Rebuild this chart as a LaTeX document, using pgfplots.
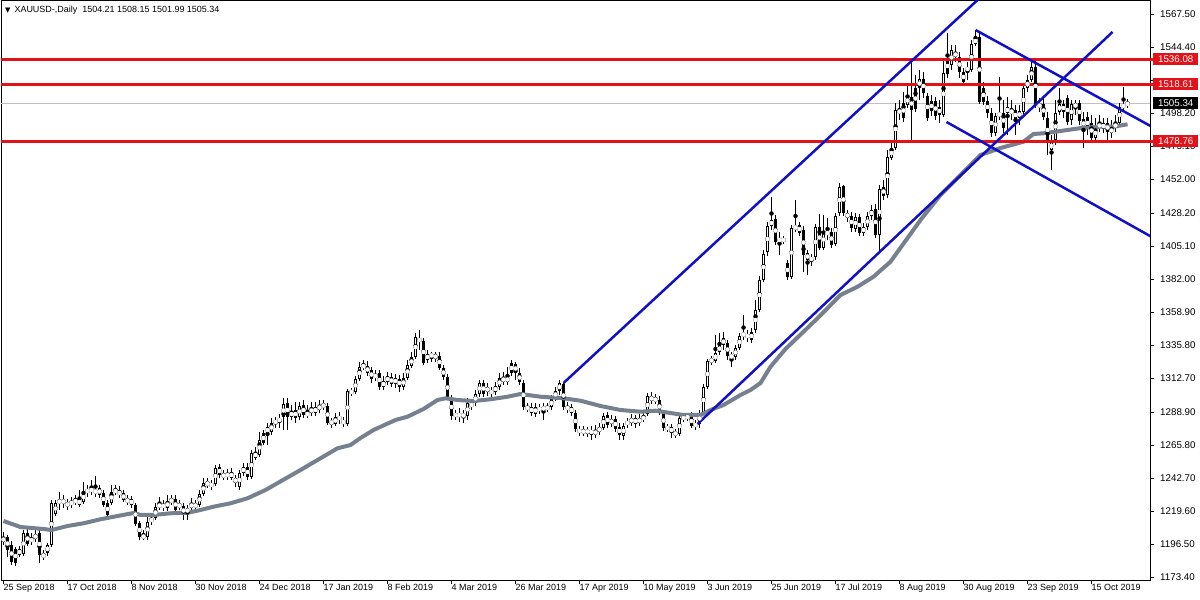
\documentclass[border=0pt]{standalone}
\usepackage{fontspec}
\setmainfont{Liberation Sans}
\newfontfamily\symfont{DejaVu Sans}
\usepackage{pgfplots}
\usepackage{pgfplotstable}
\pgfplotsset{compat=1.18}
\definecolor{mtred}{RGB}{226,18,24}
\definecolor{mtblue}{RGB}{16,16,200}
\definecolor{magray}{RGB}{118,128,142}
\definecolor{pricegray}{RGB}{192,192,192}
\newcommand\lab{\fontsize{9}{10}\selectfont}
\newcommand\ylab{\fontsize{9.8}{11}\selectfont}

\pgfplotstableread{
i o h l c
0 1198.1 1205.1 1196.0 1201.6
1 1201.6 1203.0 1187.6 1192.5
2 1196.0 1198.8 1182.0 1184.1
3 1193.2 1194.6 1181.3 1183.4
4 1193.2 1195.3 1187.6 1189.0
5 1189.7 1206.5 1188.3 1204.4
6 1204.4 1207.9 1195.3 1196.7
7 1198.1 1204.4 1196.0 1200.9
8 1200.2 1206.5 1198.1 1203.7
9 1204.4 1206.5 1183.4 1189.0
10 1189.7 1192.5 1185.5 1187.6
11 1190.4 1197.4 1188.3 1196.0
12 1196.0 1227.5 1194.6 1225.4
13 1217.7 1227.5 1216.3 1225.4
14 1225.4 1233.1 1220.5 1227.5
15 1227.5 1231.0 1221.9 1225.4
16 1225.4 1228.2 1220.5 1223.3
17 1224.0 1229.6 1221.9 1226.8
18 1228.2 1231.0 1224.0 1225.4
19 1224.0 1234.5 1222.6 1228.2
20 1226.1 1240.1 1224.7 1233.1
21 1232.4 1238.0 1229.6 1235.2
22 1233.8 1241.5 1231.0 1235.2
23 1234.5 1244.3 1229.6 1232.4
24 1235.9 1238.0 1228.9 1231.0
25 1232.4 1234.5 1222.6 1224.0
26 1225.4 1227.5 1214.9 1217.0
27 1225.4 1238.0 1224.0 1233.1
28 1233.1 1238.0 1231.0 1234.5
29 1233.8 1237.3 1228.9 1231.0
30 1232.4 1234.5 1226.1 1227.5
31 1228.2 1231.0 1224.0 1226.1
32 1228.2 1230.3 1221.9 1224.0
33 1224.0 1225.4 1209.3 1210.7
34 1211.4 1212.8 1199.5 1201.6
35 1200.9 1206.5 1199.5 1203.0
36 1201.6 1215.6 1199.5 1212.1
37 1212.1 1217.7 1210.0 1214.9
38 1214.9 1225.4 1213.5 1222.6
39 1222.6 1229.6 1220.5 1224.7
40 1224.7 1227.5 1219.8 1221.9
41 1221.9 1231.0 1219.8 1226.8
42 1226.1 1231.0 1224.0 1228.2
43 1228.2 1231.0 1219.1 1220.5
44 1224.7 1227.5 1220.5 1222.6
45 1223.3 1225.4 1213.5 1217.0
46 1218.4 1224.0 1213.5 1221.9
47 1221.9 1228.9 1219.8 1225.4
48 1224.7 1227.5 1220.5 1222.6
49 1224.0 1234.5 1222.6 1231.7
50 1231.7 1242.9 1230.3 1239.4
51 1240.1 1242.9 1235.9 1238.0
52 1238.7 1241.5 1234.5 1237.3
53 1238.7 1252.0 1237.3 1249.9
54 1250.6 1252.7 1242.9 1245.0
55 1245.7 1248.5 1241.5 1243.6
56 1243.6 1249.2 1241.5 1246.4
57 1247.1 1249.9 1241.5 1242.9
58 1242.9 1245.0 1236.6 1239.4
59 1236.6 1248.5 1234.5 1246.4
60 1246.4 1253.4 1244.3 1250.6
61 1250.6 1253.4 1241.5 1243.6
62 1243.6 1262.5 1242.2 1260.4
63 1261.1 1264.6 1255.5 1256.9
64 1259.0 1275.1 1257.6 1269.5
65 1274.4 1276.5 1266.0 1267.4
66 1274.4 1281.4 1266.0 1278.6
67 1275.1 1284.9 1273.0 1281.4
68 1281.4 1285.6 1277.9 1282.8
69 1282.1 1287.7 1277.9 1284.9
70 1285.6 1298.9 1276.5 1294.7
71 1295.4 1298.9 1276.5 1285.6
72 1285.6 1294.0 1283.5 1289.8
73 1290.5 1296.1 1281.4 1284.9
74 1285.6 1296.1 1283.5 1293.3
75 1294.0 1297.5 1284.9 1287.0
76 1288.4 1294.0 1284.9 1287.0
77 1288.4 1296.1 1286.3 1291.9
78 1292.6 1296.1 1286.3 1288.4
79 1290.5 1297.5 1288.4 1294.0
80 1292.6 1297.5 1290.5 1294.7
81 1293.3 1295.4 1280.0 1281.4
82 1282.8 1284.9 1277.9 1280.7
83 1280.7 1288.4 1279.3 1285.6
84 1286.3 1289.1 1280.7 1283.5
85 1283.5 1285.6 1278.6 1280.7
86 1280.7 1305.2 1279.3 1303.8
87 1303.8 1305.9 1300.3 1302.4
88 1303.1 1314.3 1301.7 1312.2
89 1312.2 1324.1 1310.8 1320.6
90 1320.6 1325.5 1318.5 1322.0
91 1321.3 1324.8 1314.3 1316.4
92 1318.5 1320.6 1309.4 1312.2
93 1312.9 1318.5 1310.8 1315.7
94 1316.4 1318.5 1304.5 1306.6
95 1306.6 1314.3 1304.5 1310.8
96 1310.1 1317.1 1308.0 1314.3
97 1313.6 1316.4 1306.6 1308.7
98 1312.9 1315.7 1305.9 1308.7
99 1312.2 1315.0 1303.1 1306.6
100 1306.6 1316.4 1304.5 1312.9
101 1312.9 1325.5 1311.5 1322.0
102 1321.3 1331.1 1319.9 1327.6
103 1327.6 1344.4 1326.2 1341.6
104 1340.9 1346.5 1332.5 1338.1
105 1338.8 1340.9 1322.0 1323.4
106 1325.5 1332.5 1323.4 1329.7
107 1329.7 1331.1 1324.1 1327.6
108 1329.7 1331.1 1324.1 1326.2
109 1328.3 1331.1 1318.5 1319.9
110 1319.9 1322.0 1311.5 1313.6
111 1313.6 1315.7 1297.5 1298.9
112 1298.9 1301.0 1283.5 1286.3
113 1288.4 1290.5 1283.5 1285.6
114 1288.4 1291.9 1282.1 1285.6
115 1287.7 1290.5 1281.4 1285.6
116 1286.3 1298.9 1283.5 1295.4
117 1295.4 1297.5 1290.5 1292.6
118 1295.4 1304.5 1293.3 1301.7
119 1301.7 1311.5 1299.6 1309.4
120 1309.4 1311.5 1299.6 1301.7
121 1303.1 1309.4 1300.3 1306.6
122 1302.4 1306.6 1299.6 1303.8
123 1303.1 1310.1 1301.0 1307.3
124 1306.6 1316.4 1304.5 1312.9
125 1313.6 1317.1 1308.0 1310.1
126 1310.1 1320.6 1308.0 1313.6
127 1323.4 1325.5 1314.3 1316.4
128 1322.7 1324.1 1311.5 1316.4
129 1316.4 1319.9 1308.0 1310.1
130 1309.4 1311.5 1290.5 1292.6
131 1291.2 1295.4 1289.1 1292.6
132 1292.6 1295.4 1286.3 1288.4
133 1292.6 1295.4 1285.6 1287.7
134 1292.6 1294.7 1287.7 1289.8
135 1290.5 1295.4 1283.5 1292.6
136 1292.6 1295.4 1289.1 1291.2
137 1292.6 1301.0 1290.5 1298.2
138 1298.9 1306.6 1296.8 1303.8
139 1303.8 1311.5 1301.0 1309.4
140 1308.7 1309.4 1290.5 1292.6
141 1293.3 1296.1 1288.4 1290.5
142 1292.6 1294.7 1286.3 1288.4
143 1288.4 1290.5 1275.1 1277.2
144 1277.2 1279.3 1272.3 1274.4
145 1274.4 1279.3 1272.3 1276.5
146 1276.5 1278.6 1271.6 1274.4
147 1276.5 1279.3 1269.5 1273.7
148 1273.0 1280.0 1270.9 1276.5
149 1275.1 1281.4 1273.0 1278.6
150 1277.9 1288.4 1276.5 1286.3
151 1287.0 1289.1 1277.9 1280.0
152 1280.7 1287.0 1278.6 1284.2
153 1284.2 1286.3 1275.1 1277.2
154 1278.6 1281.4 1269.5 1273.0
155 1272.3 1281.4 1269.5 1279.3
156 1280.7 1284.9 1277.9 1282.1
157 1281.4 1287.7 1279.3 1284.9
158 1284.9 1287.0 1277.9 1280.7
159 1281.4 1287.7 1279.3 1284.9
160 1283.5 1289.1 1282.1 1286.3
161 1287.7 1302.4 1286.3 1300.3
162 1300.3 1303.1 1294.7 1296.8
163 1296.8 1301.7 1294.7 1298.9
164 1297.5 1300.3 1287.0 1288.4
165 1288.4 1290.5 1275.8 1277.9
166 1278.6 1280.7 1275.1 1277.2
167 1278.6 1280.7 1270.9 1274.4
168 1275.1 1277.2 1270.9 1273.0
169 1273.7 1287.0 1272.3 1284.9
170 1284.2 1287.7 1282.1 1285.6
171 1284.9 1288.4 1282.8 1286.3
172 1286.3 1289.1 1277.9 1279.3
173 1281.4 1283.5 1276.5 1278.6
174 1280.7 1290.5 1277.9 1288.4
175 1288.4 1308.7 1287.0 1306.6
176 1306.6 1326.2 1305.2 1324.8
177 1324.1 1328.3 1322.0 1326.2
178 1324.8 1343.0 1323.4 1330.4
179 1331.1 1344.4 1329.0 1335.8
180 1335.8 1345.1 1332.5 1340.9
181 1337.4 1339.5 1325.5 1328.3
182 1328.3 1331.1 1320.6 1327.6
183 1327.6 1336.0 1325.5 1333.9
184 1333.9 1344.4 1332.5 1342.3
185 1342.3 1357.0 1339.5 1344.4
186 1343.0 1346.5 1338.1 1341.6
187 1345.1 1347.9 1337.4 1339.5
188 1346.5 1367.5 1344.4 1360.5
189 1360.5 1384.3 1359.1 1381.5
190 1381.5 1402.5 1380.1 1399.7
191 1401.1 1422.1 1398.3 1419.3
192 1419.3 1439.6 1416.5 1423.5
193 1424.2 1427.0 1406.0 1408.1
194 1410.2 1415.1 1399.0 1408.8
195 1410.2 1412.3 1406.7 1408.8
196 1393.4 1395.5 1381.5 1383.6
197 1383.6 1420.0 1382.2 1417.9
198 1417.9 1437.5 1415.1 1418.6
199 1420.0 1422.1 1412.3 1414.4
200 1416.5 1419.3 1387.1 1399.0
201 1400.4 1402.5 1385.0 1395.5
202 1394.8 1399.7 1391.3 1397.6
203 1397.6 1420.7 1395.5 1418.6
204 1418.6 1427.7 1402.5 1403.9
205 1403.9 1427.0 1402.5 1415.8
206 1415.1 1424.9 1409.5 1413.7
207 1415.1 1417.9 1403.9 1406.0
208 1406.7 1428.4 1405.3 1426.3
209 1428.4 1449.4 1426.3 1446.6
210 1447.3 1448.0 1426.3 1428.4
211 1428.4 1430.5 1422.1 1424.9
212 1426.3 1429.1 1415.1 1417.9
213 1417.2 1428.4 1415.1 1425.6
214 1425.6 1427.7 1412.3 1414.4
215 1414.4 1421.4 1412.3 1418.6
216 1418.6 1429.1 1416.5 1426.3
217 1426.3 1434.0 1423.5 1430.5
218 1431.2 1434.7 1410.9 1413.0
219 1413.0 1448.0 1401.1 1445.2
220 1446.6 1451.5 1437.5 1440.3
221 1441.0 1472.5 1438.9 1467.6
222 1466.9 1479.5 1465.5 1473.9
223 1473.9 1505.4 1472.5 1500.5
224 1498.4 1507.5 1493.5 1500.5
225 1505.4 1513.1 1492.1 1494.9
226 1504.0 1518.0 1501.9 1510.3
227 1509.6 1535.5 1479.5 1500.5
228 1515.9 1525.0 1499.1 1501.2
229 1515.9 1528.5 1507.5 1522.2
230 1522.2 1527.1 1508.9 1512.4
231 1510.3 1512.4 1492.8 1494.9
232 1506.8 1511.0 1496.3 1499.8
233 1506.8 1509.6 1493.5 1496.3
234 1502.6 1507.5 1491.4 1497.0
235 1497.0 1535.5 1495.6 1526.4
236 1536.9 1554.4 1522.9 1525.7
237 1532.0 1546.0 1528.5 1542.5
238 1541.1 1546.0 1534.1 1537.6
239 1537.6 1541.1 1522.9 1527.1
240 1527.1 1529.9 1517.3 1520.1
241 1528.5 1534.1 1521.5 1529.9
242 1528.5 1549.5 1527.1 1546.7
243 1546.7 1556.5 1545.3 1550.9
244 1551.6 1554.4 1504.7 1506.1
245 1515.9 1520.1 1504.0 1506.1
246 1506.8 1510.3 1494.9 1498.4
247 1498.4 1501.9 1481.6 1484.4
248 1484.4 1498.4 1482.3 1496.3
249 1496.3 1523.6 1493.5 1498.4
250 1498.4 1507.5 1484.4 1487.9
251 1498.4 1509.6 1483.0 1502.6
252 1498.4 1507.5 1493.5 1500.5
253 1500.5 1504.0 1483.0 1493.5
254 1494.9 1504.0 1490.0 1499.8
255 1499.1 1518.0 1497.0 1515.9
256 1515.9 1525.0 1513.1 1521.5
257 1521.5 1534.1 1520.1 1530.6
258 1530.6 1535.5 1501.9 1504.0
259 1504.7 1508.9 1499.1 1502.6
260 1504.7 1508.9 1493.5 1495.6
261 1494.9 1499.1 1469.0 1478.1
262 1472.5 1483.0 1458.5 1478.1
263 1479.5 1507.5 1476.0 1498.4
264 1499.1 1515.9 1497.0 1504.7
265 1504.7 1507.5 1494.9 1499.1
266 1508.9 1511.0 1490.0 1492.1
267 1493.5 1507.5 1490.0 1504.7
268 1505.4 1507.5 1497.0 1501.9
269 1505.4 1507.5 1490.0 1492.8
270 1494.2 1499.1 1473.9 1487.9
271 1495.6 1499.1 1483.0 1487.2
272 1491.4 1497.0 1478.1 1480.9
273 1480.9 1494.9 1477.4 1487.9
274 1487.9 1497.0 1485.1 1491.4
275 1491.4 1494.9 1484.4 1487.2
276 1491.4 1494.9 1479.5 1485.1
277 1484.4 1493.5 1480.9 1487.9
278 1487.9 1497.0 1485.1 1491.4
279 1491.4 1505.4 1489.3 1502.6
280 1504.0 1516.6 1499.1 1502.6
281 1504.21 1508.15 1501.99 1505.34
}\candles

\pgfplotstableread{
x y
0 1212.8
4.25 1208.6
10 1207.2
12 1206.5
16 1209.3
20 1211.2
24.25 1214.0
28.5 1216.3
32.5 1218.4
34.25 1217.0
37.5 1217.0
41.75 1218.2
46 1218.6
49.25 1220.5
52.5 1222.8
56.75 1225.2
61 1228.7
65.5 1234.5
74.25 1248.5
83.5 1263.7
86.75 1266.0
89.25 1270.9
92.5 1276.5
98 1283.5
101 1285.8
105 1291.2
108.5 1297.5
110.5 1298.7
113.5 1297.5
117.5 1296.8
121.75 1298.0
126 1299.8
129.25 1301.7
134.25 1299.8
140 1298.7
144.25 1297.0
149.25 1293.3
154.25 1290.5
159.25 1289.3
163 1290.0
170 1287.0
174.25 1287.0
176.75 1290.5
180 1294.0
184.25 1301.0
186.75 1304.5
189.25 1309.4
191.75 1320.8
195.5 1333.2
203.5 1354.7
209.25 1371.0
213.5 1376.8
217.5 1383.8
221.75 1394.3
229.25 1423.5
234.25 1441.0
239.25 1455.0
244.25 1469.0
249.25 1473.9
255 1478.3
257.5 1483.7
260 1484.2
264.25 1485.8
270 1488.1
274.25 1488.8
277.5 1488.8
281 1490.5
}\ma

\begin{document}
\begin{tikzpicture}
\useasboundingbox (-1bp,-20bp) rectangle (1199bp,580bp);
\begin{axis}[
  at={(0,0)}, anchor=south west,
  width=1149bp, height=579bp, scale only axis,
  xmin=-0.625, xmax=286.625, ymin=1171.5, ymax=1576.8,
  axis line style={black, line width=1bp},
  xtick={0,16,...,272},
  xticklabels={25 Sep 2018,17 Oct 2018,8 Nov 2018,30 Nov 2018,24 Dec 2018,17 Jan 2019,8 Feb 2019,4 Mar 2019,26 Mar 2019,17 Apr 2019,10 May 2019,3 Jun 2019,25 Jun 2019,17 Jul 2019,8 Aug 2019,30 Aug 2019,23 Sep 2019,15 Oct 2019},
  ytick={1173.4,1196.5,1219.6,1242.7,1265.8,1288.9,1312.7,1335.8,1358.9,1382.0,1405.1,1428.2,1452.0,1475.1,1498.2,1521.3,1544.4,1567.5},
  yticklabels={1173.40,1196.50,1219.60,1242.70,1265.80,1288.90,1312.70,1335.80,1358.90,1382.00,1405.10,1428.20,1452.00,1475.10,1498.20,{},1544.40,1567.50},
  xtick pos=left, ytick pos=right, yticklabel pos=right,
  tick align=outside, major tick length=4bp,
  tick style={black, line width=1bp},
  xticklabel style={anchor=north west, inner sep=0pt, font=\lab},
  yticklabel style={anchor=west, inner sep=0pt, xshift=6bp, font=\ylab},
]
% current price line
\addplot[pricegray, line width=0.8bp] coordinates {(-1,1505.34) (290,1505.34)};
% wicks
\addplot[only marks, mark=none,
  error bars/.cd, y dir=both, y explicit, error mark=none,
  error bar style={black, line width=1bp, line cap=butt}]
  table[x=i, y expr={(\thisrow{h}+\thisrow{l})/2}, y error expr={(\thisrow{h}-\thisrow{l})/2}] {\candles};
% bodies
\addplot[only marks, mark=none,
  error bars/.cd, y dir=both, y explicit, error mark=none,
  error bar style={black, line width=3bp, line cap=butt}]
  table[x=i, y expr={(\thisrow{o}+\thisrow{c})/2}, y error expr={max(abs(\thisrow{o}-\thisrow{c})/2,0.4)}] {\candles};
% white interior of up candles
\addplot[white, only marks, mark=none,
  error bars/.cd, y dir=both, y explicit, error mark=none,
  error bar style={draw=white, line width=1bp, line cap=butt}]
  table[x=i, y expr={(\thisrow{o}+\thisrow{c})/2}, y error expr={max((\thisrow{c}-\thisrow{o})/2-0.7,0)}] {\candles};
% moving average
\addplot[magray, line width=4bp, line join=round] table[x=x, y=y] {\ma};
% red levels
\addplot[mtred, line width=3bp] coordinates {(-1,1536.08) (290,1536.08)};
\addplot[mtred, line width=3bp] coordinates {(-1,1518.61) (290,1518.61)};
\addplot[mtred, line width=3bp] coordinates {(-1,1478.76) (290,1478.76)};
% blue trend lines
\addplot[mtblue, line width=2.5bp] coordinates {(140,1309.4) (250,1594.3)};
\addplot[mtblue, line width=2.5bp] coordinates {(173.5,1280.7) (277.25,1555.1)};
\addplot[mtblue, line width=2.5bp] coordinates {(243,1556.5) (290,1484.3)};
\addplot[mtblue, line width=2.5bp] coordinates {(235.75,1492.1) (290,1407.0)};
\coordinate (r1) at (axis cs:286.625,1536.08);
\coordinate (r2) at (axis cs:286.625,1518.61);
\coordinate (r3) at (axis cs:286.625,1478.76);
\coordinate (r4) at (axis cs:286.625,1505.34);
\node[anchor=north west, inner sep=0pt, font=\lab] at (rel axis cs:0,1) [xshift=4bp, yshift=-5bp]
  {{\symfont\fontsize{7}{8}\selectfont ▼}\hspace{4bp}XAUUSD-,Daily\ \ 1504.21 1508.15 1501.99 1505.34};
\end{axis}
\foreach \r/\t in {r1/1536.08, r2/1518.61, r3/1478.76} {
  \draw[mtred, line width=3bp] (\r) -- ++(5bp,0);
  \node[fill=mtred, text=white, anchor=west, minimum width=45bp, minimum height=12bp, inner sep=0pt, font=\ylab] at ([xshift=3bp]\r) {\t};
}
\node[fill=black, text=white, anchor=west, minimum width=45bp, minimum height=12bp, inner sep=0pt, font=\ylab] at ([xshift=3bp]r4) {1505.34};
\end{tikzpicture}
\end{document}
